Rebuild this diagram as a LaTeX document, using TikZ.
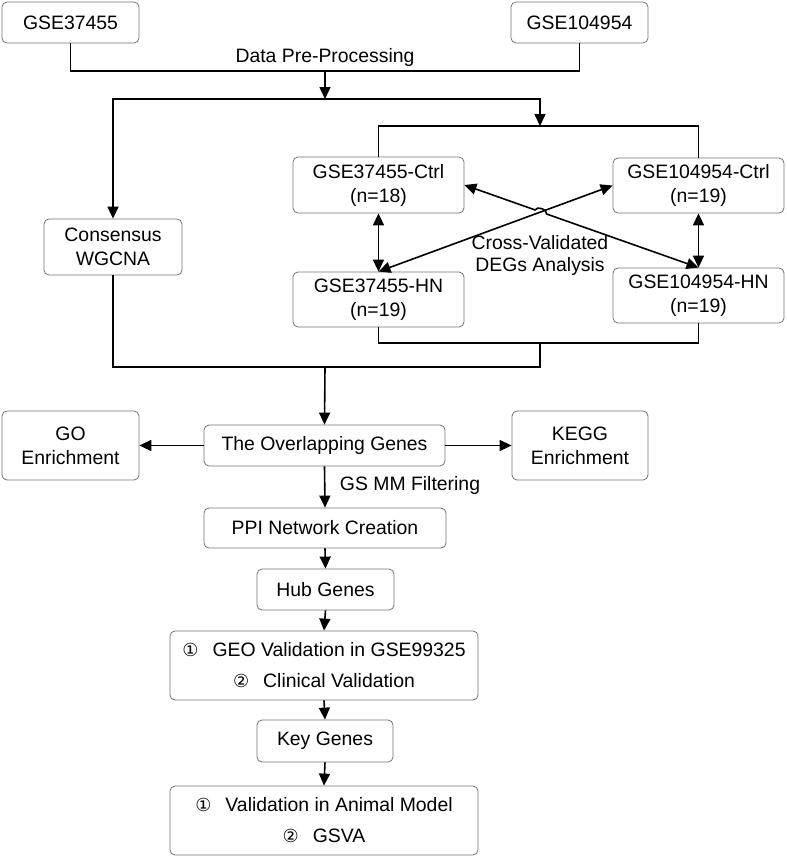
\documentclass[tikz,border=0pt]{standalone}
\usepackage{fontspec}
\setmainfont{Liberation Sans}
\newfontfamily\circfont{DejaVu Sans}
\usetikzlibrary{arrows.meta,calc}
\tikzstyle{boxg}=[draw=black!55,line width=0.8pt,rounded corners=5pt,align=center,inner sep=0pt]
\tikzstyle{lnk}=[line width=1.6pt]
\tikzstyle{arr}=[line width=1.6pt,-{Triangle[length=12pt,width=11pt]}]
\tikzstyle{darr}=[line width=1.6pt,{Triangle[length=12pt,width=11pt]}-{Triangle[length=12pt,width=11pt]}]
\newcommand{\cnum}[1]{{\circfont\fontsize{18}{18}\selectfont #1}\hspace{14pt}}

\begin{document}
\begin{tikzpicture}[x=1pt,y=-1pt,font=\fontsize{19.4}{24}\selectfont]
    \useasboundingbox (0,0) rectangle (787,857);
    % datasets
    \node[boxg,minimum width=137,minimum height=41] (d1) at (70.5,22.5) {GSE37455};
    \node[boxg,minimum width=137,minimum height=41] (d2) at (579.5,22.5) {GSE104954};
    \node (dpp) at (325,57) {Data Pre-Processing};
    \node[boxg,minimum width=138,minimum height=56] (wg) at (113,247) {Consensus\\WGCNA};
    \node[boxg,minimum width=171,minimum height=56] (c1) at (378.5,185) {GSE37455-Ctrl\\(n=18)};
    \node[boxg,minimum width=171,minimum height=55] (c2) at (698.5,185.5) {GSE104954-Ctrl\\(n=19)};
    \node[boxg,minimum width=171,minimum height=55] (h1) at (378.5,299.5) {GSE37455-HN\\(n=19)};
    \node[boxg,minimum width=171,minimum height=55] (h2) at (698.5,295.5) {GSE104954-HN\\(n=19)};
    \node[align=center,font=\fontsize{19.4}{22}\selectfont] (cvd) at (540,255) {Cross-Validated\\DEGs Analysis};
    % downstream
    \node[boxg,minimum width=241,minimum height=41] (ov) at (324.5,445.5) {The Overlapping Genes};
    \node[boxg,minimum width=137,minimum height=69] (go) at (70.5,445.5) {GO\\Enrichment};
    \node[boxg,minimum width=136,minimum height=69] (kg) at (580,445.5) {KEGG\\Enrichment};
    \node (gsmm) at (410,485) {GS MM Filtering};
    \node[boxg,minimum width=242,minimum height=40] (ppi) at (325,528) {PPI Network Creation};
    \node[boxg,minimum width=137,minimum height=41] (hub) at (325.5,589.5) {Hub Genes};
    \node[boxg,minimum width=308,minimum height=69] (geo) at (324,665.5) {\cnum{①}GEO Validation in GSE99325\\[7pt]\cnum{②}Clinical Validation};
    \node[boxg,minimum width=136,minimum height=42] (key) at (325,741) {Key Genes};
    \node[boxg,minimum width=308,minimum height=69] (val) at (324,820.5) {\cnum{①}Validation in Animal Model\\[7pt]\cnum{②}GSVA};

    \coordinate (j1) at (325,71);
    \coordinate (j2) at (325,99);
    \coordinate (j3) at (540,126);
    \coordinate (j4) at (540,343);
    \coordinate (j5) at (540,367);
    \coordinate (j6) at (325,367);

    \draw[lnk] (d1.south) |- (j1) -| (d2.south);
    \draw[arr] (j1) -- (j2);
    \draw[arr] (j2) -| (wg.north);
    \draw[arr] (j2) -| (j3);
    \draw[lnk] (c1.north) |- (j3) -| (c2.north);
    \draw[lnk] (h1.south) |- (j4) -| (h2.south);
    \draw[lnk] (wg.south) |- (j5) -- (j4);
    \draw[arr] (j6) -- (ov.north);

    % cross validation
    \draw[darr] (c1.south) -- (h1.north);
    \draw[darr] (c2.south) -- (h2.north);
    \draw[darr] (h1.north) -- (c2.west);
    \coordinate (xx) at (intersection of c1.east--h2.north and h1.north--c2.west);
    \draw[darr] (c1.east) -- ($(xx)!6pt!(c1.east)$) to[bend left=90] ($(xx)!6pt!(h2.north)$) -- (h2.north);

    \draw[arr] (ov.west) -- (go.east);
    \draw[arr] (ov.east) -- (kg.west);
    \foreach \from/\to in {ov/ppi,ppi/hub,hub/geo,geo/key,key/val}
    \draw[arr] (\from.south) -- (\to.north);
\end{tikzpicture}
\end{document}
